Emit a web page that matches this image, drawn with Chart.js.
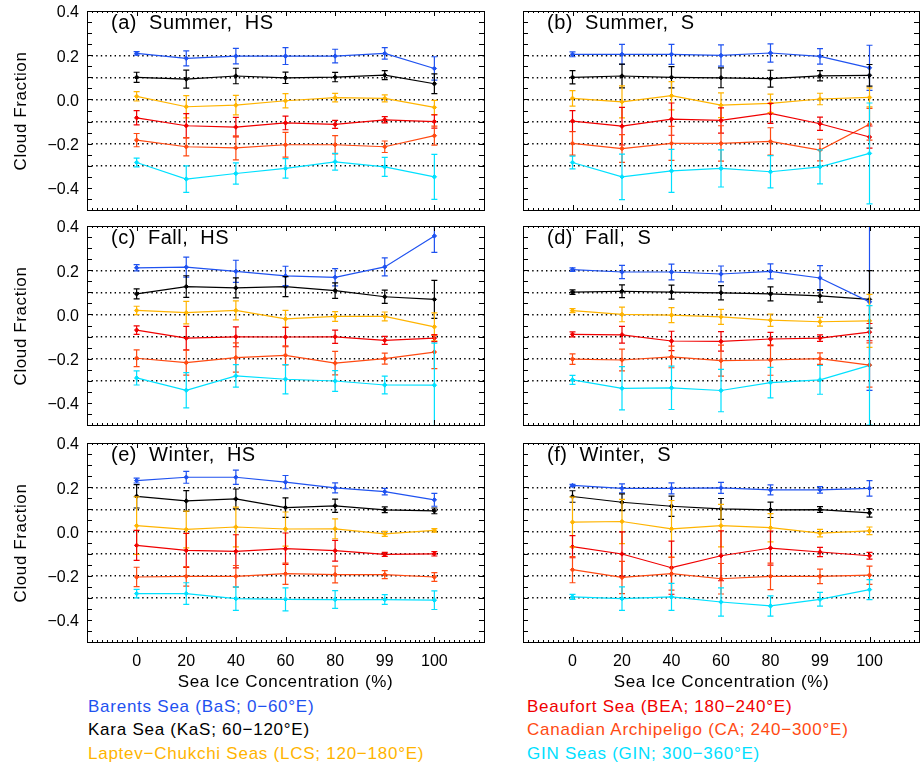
<!DOCTYPE html>
<html><head><meta charset="utf-8">
<script src="https://cdn.jsdelivr.net/npm/chart.js@4/dist/chart.umd.min.js"></script>
<style>
html,body{margin:0;padding:0;background:#fff;}
body{width:924px;height:765px;position:relative;overflow:hidden;font-family:"Liberation Sans",Arial,sans-serif;color:#000;}
canvas{position:absolute;}
.t{position:absolute;white-space:pre;line-height:20px;height:20px;}
.rot{position:absolute;white-space:pre;transform:translate(-50%,-50%) rotate(-90deg);font-size:17px;letter-spacing:0.6px;}
</style></head><body>
<script>
// ---------- data ----------
const categories = ['0','20','40','60','80','99','100'];
const regionNames = ['Barents Sea (BaS; 0\u221260\u00B0E)','Kara Sea (KaS; 60\u2212120\u00B0E)','Laptev\u2212Chukchi Seas (LCS; 120\u2212180\u00B0E)',
  'Beaufort Sea (BEA; 180\u2212240\u00B0E)','Canadian Archipeligo (CA; 240\u2212300\u00B0E)','GIN Seas (GIN; 300\u2212360\u00B0E)'];
const regionColors = ['#1f52f0','#000000','#ffb400','#f00000','#ff4a12','#00e0ff'];
const yTickLabels = ['0.4','0.2','0.0','\u22120.2','\u22120.4'];

// series order: BaS, KaS, LCS, BEA, CA, GIN
const summerHS = [
  [0.208,0.186,0.196,0.196,0.196,0.208,0.140],
  [0.100,0.092,0.106,0.098,0.101,0.110,0.071],
  [0.014,-0.033,-0.026,-0.006,0.008,0.005,-0.036],
  [-0.083,-0.119,-0.125,-0.106,-0.113,-0.092,-0.100],
  [-0.184,-0.214,-0.219,-0.205,-0.205,-0.214,-0.164],
  [-0.285,-0.360,-0.335,-0.312,-0.282,-0.305,-0.350]];
const summerHS_err = [
  [0.008,0.034,0.035,0.038,0.031,0.026,0.053],
  [0.023,0.041,0.035,0.026,0.021,0.020,0.045],
  [0.021,0.050,0.044,0.032,0.019,0.016,0.032],
  [0.032,0.055,0.044,0.031,0.018,0.014,0.030],
  [0.030,0.041,0.054,0.056,0.041,0.026,0.043],
  [0.020,0.060,0.048,0.044,0.038,0.043,0.102]];

const summerS = [
  [0.204,0.204,0.204,0.199,0.210,0.195,0.143],
  [0.100,0.106,0.100,0.098,0.094,0.107,0.109],
  [0.005,-0.011,0.017,-0.026,-0.018,0.002,0.009],
  [-0.098,-0.121,-0.089,-0.095,-0.063,-0.110,-0.170],
  [-0.199,-0.222,-0.199,-0.199,-0.190,-0.229,-0.112],
  [-0.285,-0.350,-0.323,-0.312,-0.327,-0.305,-0.244]];
const summerS_err = [
  [0.011,0.045,0.045,0.048,0.041,0.035,0.102],
  [0.030,0.054,0.048,0.045,0.038,0.023,0.049],
  [0.035,0.072,0.064,0.056,0.042,0.026,0.043],
  [0.047,0.085,0.073,0.057,0.045,0.030,0.050],
  [0.053,0.063,0.077,0.080,0.062,0.049,0.072],
  [0.029,0.103,0.097,0.084,0.073,0.077,0.228]];

const fallHS = [
  [0.211,0.214,0.195,0.174,0.168,0.215,0.355],
  [0.093,0.126,0.120,0.126,0.108,0.080,0.068],
  [0.018,0.008,0.018,-0.020,-0.009,-0.009,-0.056],
  [-0.071,-0.107,-0.101,-0.102,-0.101,-0.117,-0.107],
  [-0.198,-0.218,-0.195,-0.185,-0.220,-0.200,-0.170],
  [-0.287,-0.343,-0.278,-0.293,-0.301,-0.319,-0.320]];
const fallHS_err = [
  [0.014,0.045,0.050,0.044,0.039,0.041,0.074],
  [0.023,0.049,0.045,0.045,0.035,0.030,0.086],
  [0.019,0.051,0.043,0.038,0.022,0.020,0.063],
  [0.019,0.053,0.045,0.044,0.030,0.018,0.016],
  [0.038,0.056,0.066,0.043,0.053,0.025,0.075],
  [0.032,0.080,0.051,0.066,0.047,0.040,0.190]];

const fallS = [
  [0.203,0.192,0.192,0.183,0.195,0.165,0.057],
  [0.101,0.105,0.101,0.098,0.093,0.084,0.068],
  [0.017,0.000,-0.003,-0.011,-0.026,-0.033,-0.029],
  [-0.090,-0.092,-0.120,-0.122,-0.111,-0.107,-0.080],
  [-0.202,-0.206,-0.192,-0.209,-0.206,-0.200,-0.229],
  [-0.296,-0.334,-0.332,-0.344,-0.308,-0.296,-0.230]];
const fallS_err = [
  [0.008,0.030,0.036,0.036,0.034,0.056,0.400],
  [0.010,0.029,0.032,0.032,0.032,0.028,0.130],
  [0.009,0.033,0.034,0.034,0.028,0.020,0.120],
  [0.011,0.038,0.044,0.044,0.030,0.015,0.039],
  [0.024,0.049,0.049,0.070,0.069,0.026,0.100],
  [0.020,0.098,0.098,0.096,0.069,0.065,0.270]];

const winterHS = [
  [0.230,0.245,0.245,0.223,0.197,0.180,0.143],
  [0.159,0.138,0.147,0.108,0.116,0.098,0.093],
  [0.026,0.009,0.020,0.011,0.012,-0.011,0.005],
  [-0.063,-0.086,-0.090,-0.078,-0.087,-0.104,-0.101],
  [-0.206,-0.203,-0.203,-0.191,-0.195,-0.195,-0.206],
  [-0.281,-0.281,-0.304,-0.307,-0.308,-0.308,-0.311]];
const winterHS_err = [
  [0.011,0.027,0.032,0.030,0.023,0.015,0.029],
  [0.053,0.047,0.045,0.044,0.030,0.013,0.013],
  [0.130,0.083,0.090,0.077,0.045,0.011,0.008],
  [0.068,0.077,0.075,0.071,0.047,0.009,0.010],
  [0.044,0.044,0.049,0.048,0.038,0.018,0.020],
  [0.019,0.049,0.053,0.052,0.040,0.022,0.042]];

const winterS = [
  [0.208,0.195,0.195,0.197,0.188,0.188,0.195],
  [0.158,0.132,0.114,0.102,0.098,0.099,0.084],
  [0.042,0.045,0.012,0.026,0.017,-0.008,0.003],
  [-0.069,-0.102,-0.164,-0.110,-0.075,-0.093,-0.110],
  [-0.173,-0.208,-0.191,-0.214,-0.203,-0.203,-0.198],
  [-0.296,-0.304,-0.296,-0.319,-0.337,-0.307,-0.263]];
const winterS_err = [
  [0.005,0.020,0.025,0.025,0.023,0.015,0.035],
  [0.026,0.038,0.046,0.047,0.035,0.013,0.019],
  [0.113,0.100,0.128,0.096,0.064,0.017,0.017],
  [0.050,0.100,0.120,0.113,0.077,0.021,0.015],
  [0.059,0.073,0.074,0.069,0.060,0.033,0.041],
  [0.011,0.053,0.061,0.064,0.046,0.031,0.045]];

const panelTitles = ['(a)  Summer,  HS','(b)  Summer,  S','(c)  Fall,  HS','(d)  Fall,  S','(e)  Winter,  HS','(f)  Winter,  S'];

// ---------- layout ----------
const FONT = '"Liberation Sans", Arial, sans-serif';
const colL = {canvasLeft:0, width:490, yw:87, padR:6};
const colR = {canvasLeft:500, width:424, yw:23, padR:5};
const rows = [{T:11,B:210,xh:5},{T:226,B:425,xh:5},{T:443,B:642,xh:38}];

const errorBars = {
  id:'errorBars',
  afterDatasetsDraw(chart){
    const ctx = chart.ctx, xs = chart.scales.x, ys = chart.scales.y, a = chart.chartArea;
    ctx.save();
    ctx.beginPath(); ctx.rect(a.left, a.top, a.right-a.left, a.bottom-a.top); ctx.clip();
    chart.data.datasets.forEach(ds => {
      ctx.strokeStyle = ds.borderColor; ctx.lineWidth = 1.2;
      ds.data.forEach((p, j) => {
        const e = ds.errors[j];
        const x = xs.getPixelForValue(p.x);
        const y1 = ys.getPixelForValue(p.y + e), y2 = ys.getPixelForValue(p.y - e);
        ctx.beginPath();
        ctx.moveTo(x, y1); ctx.lineTo(x, y2);
        ctx.moveTo(x-3, y1); ctx.lineTo(x+3, y1);
        ctx.moveTo(x-3, y2); ctx.lineTo(x+3, y2);
        ctx.stroke();
      });
    });
    ctx.restore();
  }
};

const frameTicks = {
  id:'frameTicks',
  afterDraw(chart){
    const ctx = chart.ctx, xs = chart.scales.x, ys = chart.scales.y, a = chart.chartArea;
    ctx.save();
    ctx.strokeStyle = '#000'; ctx.lineWidth = 1;
    ctx.beginPath();
    for (let k = -9; k <= 7; k++) {
      const y = Math.round(ys.getPixelForValue(k*0.05)) + 0.5;
      ctx.moveTo(a.left, y); ctx.lineTo(a.left+5, y);
      ctx.moveTo(a.right, y); ctx.lineTo(a.right-5, y);
    }
    for (let k = -9; k <= 69; k++) {
      const x = Math.round(xs.getPixelForValue(k/10)) + 0.5;
      const len = (k % 10 === 0) ? 5 : 2;
      ctx.moveTo(x, a.bottom); ctx.lineTo(x, a.bottom-len);
      ctx.moveTo(x, a.top); ctx.lineTo(x, a.top+len);
    }
    ctx.stroke();
    ctx.strokeRect(Math.round(a.left)+0.5, Math.round(a.top)+0.5, Math.round(a.right-a.left), Math.round(a.bottom-a.top));
    ctx.restore();
  }
};

function yLabel(value){
  const v = Math.round(value*10);
  if (v % 2 !== 0 || v < -4 || v > 4) return '';
  return yTickLabels[(4 - v)/2];
}

function makePanel(idx, means, errs){
  const col = (idx % 2 === 0) ? colL : colR;
  const row = rows[Math.floor(idx/2)];
  const isLeft = idx % 2 === 0, isBottom = Math.floor(idx/2) === 2;
  const cv = document.createElement('canvas');
  const top = row.T - 10;
  const height = row.B + row.xh - top;
  cv.width = col.width; cv.height = height;
  cv.style.left = col.canvasLeft + 'px'; cv.style.top = top + 'px';
  cv.style.width = col.width + 'px'; cv.style.height = height + 'px';
  document.body.appendChild(cv);

  const datasets = means.map((m, i) => ({
    label: regionNames[i],
    data: m.map((v, j) => ({x: j, y: v})),
    errors: errs[i],
    borderColor: regionColors[i],
    backgroundColor: regionColors[i],
    borderWidth: 1.2,
    pointStyle: 'rectRot',
    pointRadius: 2.2,
    pointBorderWidth: 1,
    showLine: true,
    tension: 0
  }));

  new Chart(cv, {
    type: 'scatter',
    data: {datasets},
    options: {
      responsive: false, animation: false, devicePixelRatio: 1,
      layout: {padding: {top: 10, bottom: 0, left: 0, right: col.padR}},
      plugins: {legend: {display: false}, tooltip: {enabled: false}, title: {display: false}},
      scales: {
        x: {
          type: 'linear', position: 'bottom', min: -1, max: 7,
          grid: {display: false, drawTicks: false},
          border: {display: false},
          ticks: {
            display: isBottom, stepSize: 1, autoSkip: false, maxRotation: 0, padding: 10,
            color: '#000', font: {family: FONT, size: 16},
            callback: v => (Number.isInteger(v) && v >= 0 && v <= 6) ? categories[v] : ''
          },
          afterFit: s => { s.height = row.xh; s.paddingLeft = 0; s.paddingRight = 0; }
        },
        y: {
          type: 'linear', position: 'left', min: -0.5, max: 0.4,
          grid: {
            drawTicks: false, lineWidth: 1.4,
            color: c => { const v = Math.round(c.tick.value*10); return (v >= -3 && v <= 2) ? '#000' : 'rgba(0,0,0,0)'; }
          },
          border: {display: false, dash: [1.4, 3.2]},
          ticks: {
            display: isLeft, stepSize: 0.1, autoSkip: false, padding: 8, labelOffset: 2,
            color: '#000', font: {family: FONT, size: 16},
            callback: v => yLabel(v)
          },
          afterFit: s => { s.width = col.yw; s.paddingTop = 0; s.paddingBottom = 0; }
        }
      }
    },
    plugins: [errorBars, frameTicks]
  });
}

function addText(txt, x, cy, size, color, ls){
  const d = document.createElement('div');
  d.className = 't';
  d.textContent = txt;
  d.style.left = x + 'px'; d.style.top = (cy - 10) + 'px';
  d.style.fontSize = size + 'px'; d.style.color = color || '#000';
  if (ls) d.style.letterSpacing = ls + 'px';
  document.body.appendChild(d);
  return d;
}

const allMeans = [summerHS, summerS, fallHS, fallS, winterHS, winterS];
const allErrs = [summerHS_err, summerS_err, fallHS_err, fallS_err, winterHS_err, winterS_err];

allMeans.forEach((m, i) => makePanel(i, m, allErrs[i]));

// panel titles
const titleY = [21.5, 237, 454];
panelTitles.forEach((t, i) => {
  const x = (i % 2 === 0) ? 111 : 547;
  addText(t, x, titleY[Math.floor(i/2)], 20, '#000', 0.5);
});

// y-axis titles
rows.forEach(r => {
  const d = document.createElement('div');
  d.className = 'rot'; d.textContent = 'Cloud Fraction';
  d.style.left = '21px'; d.style.top = ((r.T + r.B)/2) + 'px';
  document.body.appendChild(d);
});

// x-axis titles
[285.5, 721.5].forEach(cx => {
  const d = addText('Sea Ice Concentration (%)', 0, 682, 17, '#000', 0.65);
  d.style.left = cx + 'px'; d.style.transform = 'translateX(-50%)';
});

// legend
const legY = [707, 730, 754];
regionNames.forEach((n, i) => {
  const x = i < 3 ? 88 : 527;
  addText(n, x, legY[i % 3], 17, regionColors[i], 0.75);
});
</script>
</body></html>
